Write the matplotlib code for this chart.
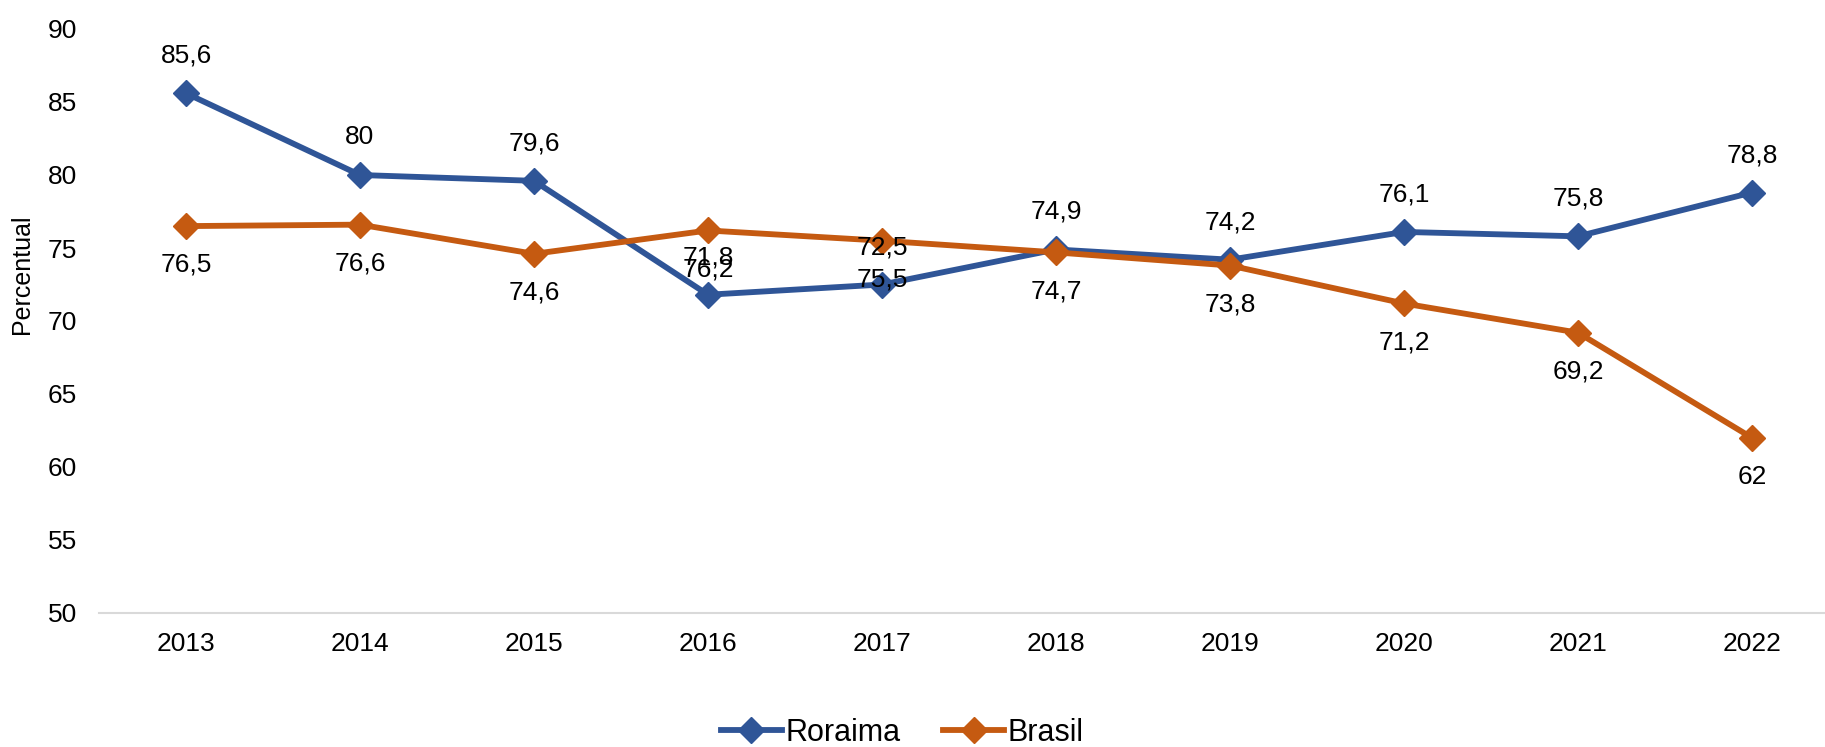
import matplotlib
matplotlib.use("Agg")
import matplotlib.pyplot as plt

years = ["2013", "2014", "2015", "2016", "2017", "2018", "2019", "2020", "2021", "2022"]
roraima = [85.6, 80, 79.6, 71.8, 72.5, 74.9, 74.2, 76.1, 75.8, 78.8]
brasil = [76.5, 76.6, 74.6, 76.2, 75.5, 74.7, 73.8, 71.2, 69.2, 62]
yticks = [50, 55, 60, 65, 70, 75, 80, 85, 90]

plt.rcParams['font.family'] = ['Liberation Sans', 'DejaVu Sans']

W, H = 1825, 747
fig = plt.figure(figsize=(W / 100, H / 100), dpi=100)
ax = fig.add_axes([99 / W, 1 - 613 / H, 1740 / W, (613 - 29) / H])

blue = "#2F5597"
orange = "#C55A11"
x = list(range(len(years)))

ax.plot(x, roraima, color=blue, lw=4.2, marker="D", ms=13, label="Roraima", zorder=3)
ax.plot(x, brasil, color=orange, lw=4.2, marker="D", ms=13, label="Brasil", zorder=3)

def fmt(v):
    s = f"{v:.1f}"
    if s.endswith(".0"):
        s = s[:-2]
    return s.replace(".", ",")

for xi, v in zip(x, roraima):
    ax.annotate(fmt(v), (xi, v), xytext=(0, 27), textcoords="offset points",
                ha="center", va="center", fontsize=19, color="black", zorder=4)
for xi, v in zip(x, brasil):
    ax.annotate(fmt(v), (xi, v), xytext=(0, -28), textcoords="offset points",
                ha="center", va="center", fontsize=19, color="black", zorder=4)

ax.set_xlim(-0.5, len(years) - 0.5)
ax.set_ylim(50, 90)
ax.set_xticks(x)
ax.set_xticklabels(years, fontsize=19)
ax.set_yticks(yticks)
ax.set_yticklabels([str(t) for t in yticks], fontsize=19)
ax.tick_params(axis="both", length=0)
ax.tick_params(axis="x", pad=14)
ax.tick_params(axis="y", pad=16)

for s in ["top", "right", "left"]:
    ax.spines[s].set_visible(False)
ax.spines["bottom"].set_color("#D9D9D9")
ax.spines["bottom"].set_linewidth(1.5)

fig.text(22 / W, 1 - 274 / H, "Percentual", rotation=90, fontsize=18, ha="center", va="center")

leg = fig.legend(loc="center", bbox_to_anchor=(902 / W, 1 - 733 / H), ncol=2, frameon=False,
                 fontsize=22, handlelength=2.0, columnspacing=1.4, handletextpad=0.1)

fig.savefig("out.png", dpi=100)
